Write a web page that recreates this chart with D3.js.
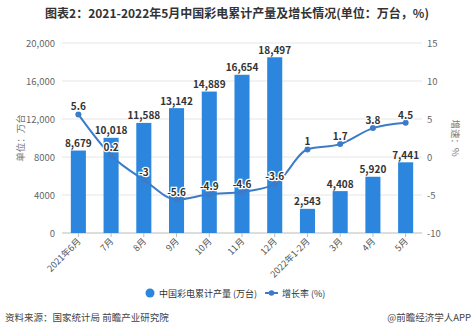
<!DOCTYPE html>
<html><head><meta charset="utf-8">
<script src="https://cdn.jsdelivr.net/npm/d3@7"></script>
<style>
body{margin:0;background:#fff;}
svg{font-family:"Noto Sans CJK SC","Noto Sans",sans-serif;}
</style></head>
<body><svg id="c" width="474" height="330"></svg>
<script>
const categories = ["2021年6月","7月","8月","9月","10月","11月","12月","2022年1-2月","3月","4月","5月"];
const production = [8679,10018,11588,13142,14889,16654,18497,2543,4408,5920,7441];
const growth = [5.6,0.2,-3,-5.6,-4.9,-4.6,-3.6,1,1.7,3.8,4.5];
const leftTicks = [0,4000,8000,12000,16000,20000];
const leftTickLabels = ["0","4000","8000","12,000","16,000","20,000"];
const rightTicks = [-10,-5,0,5,10,15];
const title = "图表2：2021-2022年5月中国彩电累计产量及增长情况(单位：万台，%)";
const seriesNames = ["中国彩电累计产量 (万台)","增长率 (%)"];
const source = "资料来源：国家统计局 前瞻产业研究院";
const credit = "@前瞻经济学人APP";

const svg = d3.select("#c");
const m = {l:62, r:422, t:43, b:233};
const x = d3.scaleBand().domain(categories).range([m.l, m.r]).paddingInner(0.54).paddingOuter(0.27);
const yL = d3.scaleLinear().domain([0,20000]).range([m.b, m.t]);
const yR = d3.scaleLinear().domain([-10,15]).range([m.b, m.t]);
const barColor = "#2c86dd", lineColor = "#3b7bc8";

svg.append("text").attr("x",237).attr("y",18).attr("text-anchor","middle")
  .attr("font-size",12).attr("font-weight","bold").attr("fill","#333").text(title);

// grid
svg.append("g").selectAll("line").data(leftTicks).join("line")
  .attr("x1",m.l).attr("x2",m.r).attr("y1",d=>yL(d)).attr("y2",d=>yL(d))
  .attr("stroke",(d)=>d===0?"#bbb":"#e6e6e6").attr("stroke-width",1);

// left axis labels
svg.append("g").selectAll("text").data(leftTicks).join("text")
  .attr("x",55).attr("y",d=>yL(d)+3.5).attr("text-anchor","end")
  .attr("font-size",9.5).attr("fill","#666").text((d,i)=>leftTickLabels[i]);
// right axis labels
svg.append("g").selectAll("text").data(rightTicks).join("text")
  .attr("x",427).attr("y",d=>yR(d)+3.5).attr("text-anchor","start")
  .attr("font-size",9.5).attr("fill","#666").text(d=>d);

svg.append("text").attr("transform","translate(24,138) rotate(-90)").attr("text-anchor","middle")
  .attr("font-size",9.5).attr("fill","#777").text("单位：万台");
svg.append("text").attr("transform","translate(452,138) rotate(90)").attr("text-anchor","middle")
  .attr("font-size",9.5).attr("fill","#777").text("增速：%");

// x ticks
svg.append("g").selectAll("line").data(categories).join("line")
  .attr("x1",d=>x(d)+x.bandwidth()/2).attr("x2",d=>x(d)+x.bandwidth()/2)
  .attr("y1",m.b).attr("y2",m.b+4).attr("stroke","#bbb");
svg.append("g").selectAll("text").data(categories).join("text")
  .attr("transform",d=>`translate(${x(d)+x.bandwidth()/2+3},${m.b+9}) rotate(-45)`)
  .attr("text-anchor","end").attr("font-size",9).attr("fill","#555").text(d=>d);

// bars
svg.append("g").selectAll("rect").data(production).join("rect")
  .attr("x",(d,i)=>x(categories[i])).attr("width",x.bandwidth())
  .attr("y",d=>yL(d)).attr("height",d=>m.b-yL(d)).attr("fill",barColor);
svg.append("g").selectAll("text").data(production).join("text")
  .attr("x",(d,i)=>x(categories[i])+x.bandwidth()/2).attr("y",d=>yL(d)-3.5)
  .attr("text-anchor","middle").attr("font-size",10).attr("font-weight","bold").attr("fill","#333")
  .text(d=>d3.format(",")(d));

// line
const cx = i=>x(categories[i])+x.bandwidth()/2;
const line = d3.line().x((d,i)=>cx(i)).y(d=>yR(d)).curve(d3.curveMonotoneX);
svg.append("path").datum(growth).attr("d",line).attr("fill","none")
  .attr("stroke",lineColor).attr("stroke-width",2);
svg.append("g").selectAll("circle").data(growth).join("circle")
  .attr("cx",(d,i)=>cx(i)).attr("cy",d=>yR(d)).attr("r",3).attr("fill",lineColor);
svg.append("g").selectAll("text").data(growth).join("text")
  .attr("x",(d,i)=>cx(i)).attr("y",d=>yR(d)-4)
  .attr("text-anchor","middle").attr("font-size",10).attr("font-weight","bold")
  .attr("fill","#333").attr("stroke","#fff").attr("stroke-width",2.5).attr("paint-order","stroke")
  .text(d=>d);

// legend
svg.append("circle").attr("cx",150).attr("cy",293).attr("r",4.5).attr("fill",barColor);
svg.append("text").attr("x",159).attr("y",296.5).attr("font-size",9).attr("fill","#333").text(seriesNames[0]);
svg.append("line").attr("x1",265).attr("x2",278).attr("y1",293).attr("y2",293).attr("stroke",lineColor).attr("stroke-width",2);
svg.append("circle").attr("cx",271.5).attr("cy",293).attr("r",2.8).attr("fill",lineColor);
svg.append("text").attr("x",282).attr("y",296.5).attr("font-size",9).attr("fill","#333").text(seriesNames[1]);

svg.append("text").attr("x",5).attr("y",321).attr("font-size",9.5).attr("fill","#444").text(source);
svg.append("text").attr("x",471).attr("y",321).attr("text-anchor","end").attr("font-size",9.5).attr("fill","#444").text(credit);
</script></body></html>
